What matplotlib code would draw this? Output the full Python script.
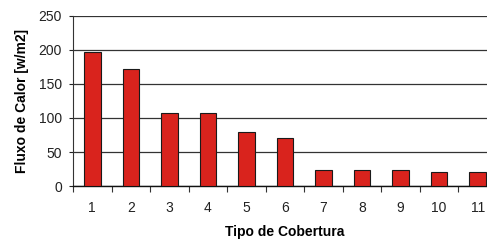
import matplotlib
matplotlib.use("Agg")
import matplotlib.pyplot as plt
import numpy as np

categories = ["1", "2", "3", "4", "5", "6", "7", "8", "9", "10", "11"]
values = [197, 172, 108, 108, 80, 71, 24, 24, 24, 20, 20]
yticks = [0, 50, 100, 150, 200, 250]

plt.rcParams['font.family'] = ['Liberation Sans', 'DejaVu Sans']

fig = plt.figure(figsize=(4.87, 2.43), dpi=100)
ax = fig.add_axes([73/487, 1-186/243, (497-73)/487, 170/243])

x = np.arange(len(categories))
ax.bar(x, values, width=0.43, color='#D9231D', edgecolor='#1a1a1a', linewidth=0.8, zorder=3)

ax.set_xlim(-0.5, len(categories) - 0.5)
ax.set_ylim(0, 250)
ax.set_yticks(yticks)
ax.set_xticks(x)
ax.set_xticklabels(categories)
ax.set_xticks(np.arange(-0.5, len(categories), 1), minor=True)
ax.tick_params(axis='x', which='major', length=0, pad=11, labelsize=10, colors='#222222')
ax.tick_params(axis='x', which='minor', length=4, width=0.8, direction='out', color='#333333')
ax.tick_params(axis='y', length=3, width=0.8, pad=5, labelsize=10, colors='#222222')

ax.yaxis.grid(True, color='#333333', linewidth=0.9, zorder=0)
ax.set_axisbelow(True)
for s in ['top', 'right']:
    ax.spines[s].set_visible(False)
ax.spines['left'].set_color('#333333')
ax.spines['bottom'].set_color('#111111')
ax.spines['left'].set_linewidth(0.8)
ax.spines['bottom'].set_linewidth(1.0)

ax.set_ylabel('Fluxo de Calor [w/m2]', fontsize=10, fontweight='bold', labelpad=7)
ax.set_xlabel('Tipo de Cobertura', fontsize=10, fontweight='bold', labelpad=7)

fig.savefig('out.png', dpi=100)
